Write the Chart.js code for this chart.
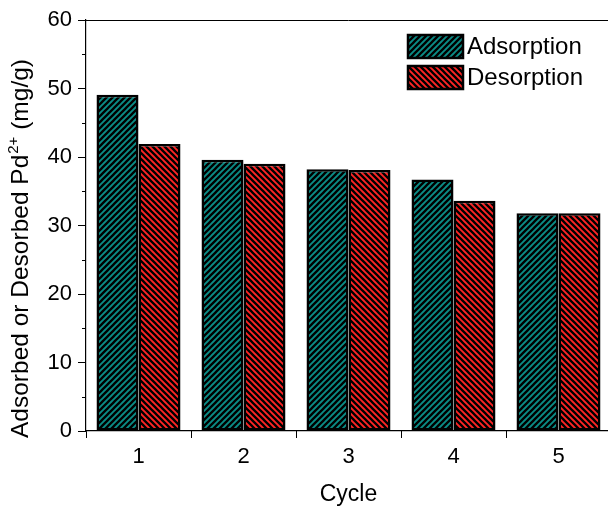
<!DOCTYPE html>
<html>
<head>
<meta charset="utf-8">
<script src="https://cdn.jsdelivr.net/npm/chart.js@4.4.1/dist/chart.umd.min.js"></script>
<style>
  html, body { margin: 0; padding: 0; background: #fff; overflow: hidden; }
  canvas { display: block; }
</style>
</head>
<body>
<canvas id="barChart" width="614" height="509"></canvas>
<script>
var cycles = ['1', '2', '3', '4', '5'];
var adsorption = [49.1, 39.6, 38.2, 36.7, 31.8];
var desorption = [41.9, 39.0, 38.1, 33.6, 31.8];
var yTicks = [0, 10, 20, 30, 40, 50, 60];
var yMinorTicks = [5, 15, 25, 35, 45, 55];
var seriesNames = ['Adsorption', 'Desorption'];
var yTitle = ['Adsorbed or Desorbed Pd', '2+', ' (mg/g)'];

var FONT = '"Liberation Sans", Arial, sans-serif';

// diagonal hatch fill, dir 1 = '/', dir -1 = '\'
function hatch(color, dir) {
  var s = 6;
  var c = document.createElement('canvas');
  c.width = s;
  c.height = s;
  var g = c.getContext('2d');
  g.fillStyle = color;
  g.fillRect(0, 0, s, s);
  g.strokeStyle = '#000';
  g.lineWidth = 2.3;
  g.beginPath();
  if (dir > 0) {
    g.moveTo(0, s); g.lineTo(s, 0);
    g.moveTo(-1, 1); g.lineTo(1, -1);
    g.moveTo(s - 1, s + 1); g.lineTo(s + 1, s - 1);
  } else {
    g.moveTo(0, 0); g.lineTo(s, s);
    g.moveTo(-1, s - 1); g.lineTo(1, s + 1);
    g.moveTo(s - 1, -1); g.lineTo(s + 1, 1);
  }
  g.stroke();
  return g.createPattern(c, 'repeat');
}

var ctx = document.getElementById('barChart').getContext('2d');
var tealFill = hatch('#0b8c86', 1);
var redFill = hatch('#ff2525', -1);

var extras = {
  id: 'extras',
  afterDraw: function (chart) {
    var c = chart.ctx;
    var area = chart.chartArea;
    var x = chart.scales.x;
    var y = chart.scales.y;
    c.save();
    c.strokeStyle = '#000';
    c.lineWidth = 1;
    // top frame line
    c.beginPath();
    c.moveTo(area.left, area.top + 0.5);
    c.lineTo(area.right, area.top + 0.5);
    c.stroke();
    // minor ticks
    c.beginPath();
    yMinorTicks.forEach(function (v) {
      var py = Math.round(y.getPixelForValue(v)) + 0.5;
      c.moveTo(area.left, py);
      c.lineTo(area.left - 4, py);
    });
    for (var i = 0; i < cycles.length - 1; i++) {
      var px = Math.round((x.getPixelForValue(i) + x.getPixelForValue(i + 1)) / 2) + 0.5;
      c.moveTo(px, area.bottom);
      c.lineTo(px, area.bottom + 4);
    }
    c.stroke();

    // y axis title with superscript
    c.save();
    c.translate(28, 438);
    c.rotate(-Math.PI / 2);
    c.fillStyle = '#000';
    c.textAlign = 'left';
    c.textBaseline = 'alphabetic';
    var pos = 0;
    c.font = '24.5px ' + FONT;
    c.fillText(yTitle[0], pos, 0);
    pos += c.measureText(yTitle[0]).width + 1;
    c.font = '15px ' + FONT;
    c.fillText(yTitle[1], pos, -10);
    pos += c.measureText(yTitle[1]).width;
    c.font = '24.5px ' + FONT;
    c.fillText(yTitle[2], pos, 0);
    c.restore();

    // legend
    var fills = [tealFill, redFill];
    var tops = [35, 66];
    c.font = '24px ' + FONT;
    c.textBaseline = 'middle';
    c.textAlign = 'left';
    for (var k = 0; k < seriesNames.length; k++) {
      c.fillStyle = fills[k];
      c.fillRect(408, tops[k], 55, 23);
      c.lineWidth = 2.5;
      c.strokeRect(408, tops[k], 55, 23);
      c.fillStyle = '#000';
      c.fillText(seriesNames[k], 467, tops[k] + 12);
    }
    c.restore();
  }
};

var barChart = new Chart(ctx, {
  type: 'bar',
  data: {
    labels: cycles,
    datasets: [
      {
        label: seriesNames[0],
        data: adsorption,
        backgroundColor: tealFill,
        borderColor: '#000',
        borderWidth: 2.5,
        borderSkipped: false
      },
      {
        label: seriesNames[1],
        data: desorption,
        backgroundColor: redFill,
        borderColor: '#000',
        borderWidth: 2.5,
        borderSkipped: false
      }
    ]
  },
  options: {
    responsive: false,
    animation: false,
    layout: { padding: { top: 20, right: 3, left: 0, bottom: 0 } },
    datasets: { bar: { categoryPercentage: 0.8, barPercentage: 1.0 } },
    plugins: { legend: { display: false }, tooltip: { enabled: false } },
    scales: {
      x: {
        grid: { drawOnChartArea: false, color: '#000', tickLength: 7, tickWidth: 1 },
        border: { display: true, color: '#000', width: 1.2 },
        ticks: { color: '#000', padding: 6, font: { family: FONT, size: 22 } },
        title: { display: true, text: 'Cycle', color: '#000', padding: { top: 0, bottom: 1 }, font: { family: FONT, size: 23 } },
        afterFit: function (s) { s.height = 78; }
      },
      y: {
        min: 0,
        max: 60,
        afterBuildTicks: function (s) {
          s.ticks = yTicks.map(function (v) { return { value: v }; });
        },
        grid: { drawOnChartArea: false, color: '#000', tickLength: 8, tickWidth: 1 },
        border: { display: true, color: '#000', width: 1.2 },
        ticks: { color: '#000', padding: 6, font: { family: FONT, size: 22 } },
        title: { display: false },
        afterFit: function (s) { s.width = 86; }
      }
    }
  },
  plugins: [extras]
});
</script>
</body>
</html>
